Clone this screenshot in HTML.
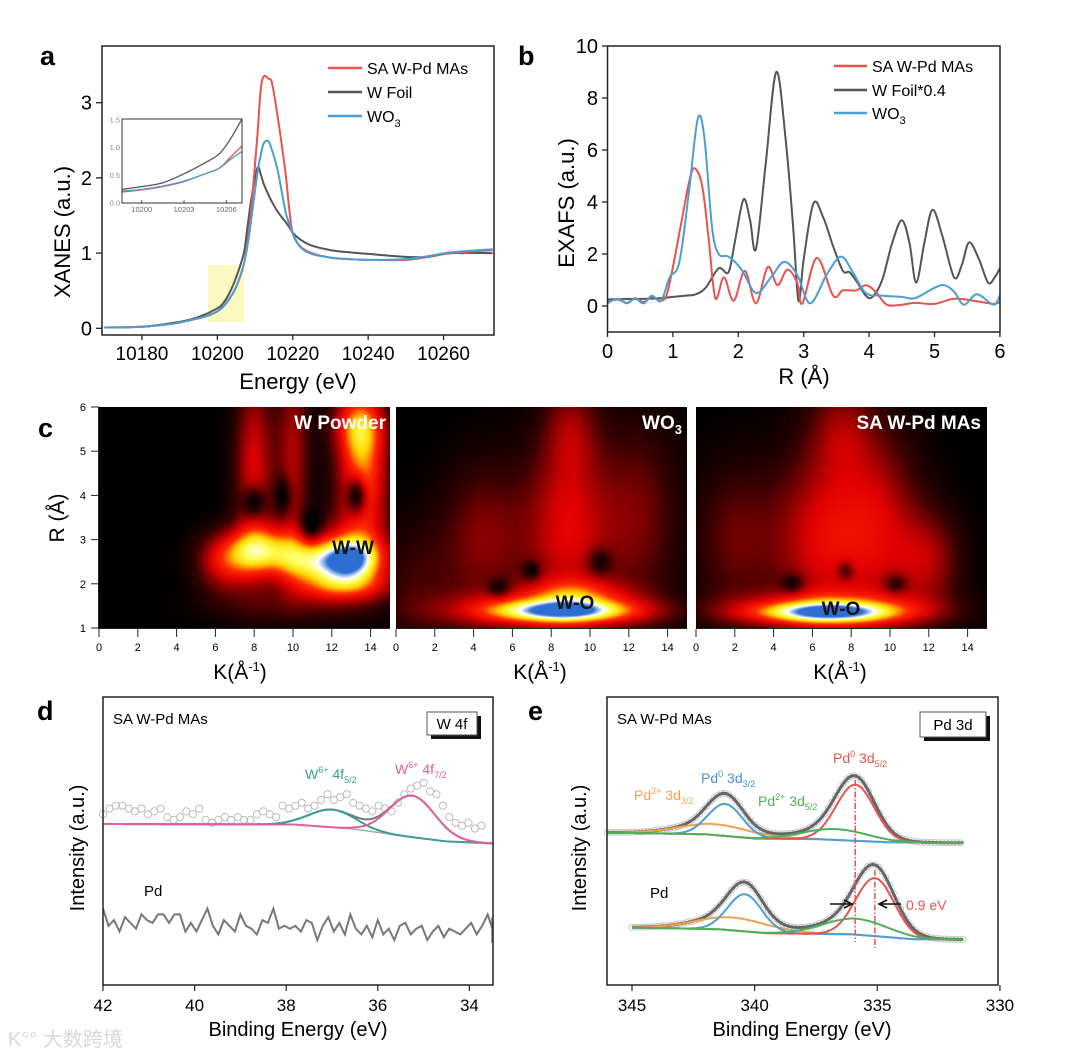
<!DOCTYPE html>
<html><head><meta charset="utf-8">
<style>
html,body{margin:0;padding:0;background:#fff;}
#wrap{position:relative;width:1080px;height:1056px;overflow:hidden;font-family:"Liberation Sans",Arial,sans-serif;}
svg{position:absolute;left:0;top:0;}
canvas{position:absolute;}
text{font-family:"Liberation Sans",Arial,sans-serif;}
</style></head>
<body>
<div id="wrap">
<canvas id="hm0" width="291" height="221" style="left:99px;top:407px;width:291px;height:221px"></canvas>
<canvas id="hm1" width="291" height="221" style="left:396px;top:407px;width:291px;height:221px"></canvas>
<canvas id="hm2" width="291" height="221" style="left:696px;top:407px;width:291px;height:221px"></canvas>
<svg id="fig" width="1080" height="1056" viewBox="0 0 1080 1056">
  <text x="40" y="65" font-size="27" font-weight="bold">a</text>
  <text x="518" y="65" font-size="27" font-weight="bold">b</text>
  <text x="38" y="437" font-size="27" font-weight="bold">c</text>
  <text x="37" y="720" font-size="27" font-weight="bold">d</text>
  <text x="528" y="720" font-size="27" font-weight="bold">e</text>

  <rect x="208" y="265" width="36" height="57" fill="#fbf8c0"/>
  <g id="pa"></g>
  <rect x="102" y="46" width="392" height="289" fill="none" stroke="#222" stroke-width="1.5"/>
  <text x="298" y="389" font-size="22" text-anchor="middle">Energy (eV)</text>
  <text transform="translate(70,232) rotate(-90)" font-size="22" text-anchor="middle">XANES (a.u.)</text>
  <g>
    <line x1="328" y1="68" x2="362" y2="68" stroke="#e8534f" stroke-width="2.5"/>
    <text x="367" y="74" font-size="16">SA W-Pd MAs</text>
    <line x1="328" y1="92" x2="362" y2="92" stroke="#555" stroke-width="2.5"/>
    <text x="367" y="98" font-size="16">W Foil</text>
    <line x1="328" y1="116" x2="362" y2="116" stroke="#4a9fd0" stroke-width="2.5"/>
    <text x="367" y="122" font-size="16">WO<tspan font-size="11" dy="5">3</tspan></text>
  </g>
  <g id="pi"></g>
  <rect x="122" y="119" width="120" height="84" fill="none" stroke="#333" stroke-width="1"/>

  <g id="pb"></g>
  <rect x="607.5" y="46" width="392.5" height="286" fill="none" stroke="#222" stroke-width="1.5"/>
  <text x="804" y="384" font-size="22" text-anchor="middle">R (Å)</text>
  <text transform="translate(574,203) rotate(-90)" font-size="22" text-anchor="middle">EXAFS (a.u.)</text>
  <g>
    <line x1="834" y1="66" x2="867" y2="66" stroke="#e8534f" stroke-width="2.5"/>
    <text x="872" y="72" font-size="16">SA W-Pd MAs</text>
    <line x1="834" y1="90" x2="867" y2="90" stroke="#555" stroke-width="2.5"/>
    <text x="872" y="96" font-size="16">W Foil*0.4</text>
    <line x1="834" y1="113" x2="867" y2="113" stroke="#4a9fd0" stroke-width="2.5"/>
    <text x="872" y="119" font-size="16">WO<tspan font-size="11" dy="5">3</tspan></text>
  </g>

  <g id="pc"></g>
  <text transform="translate(64,518) rotate(-90)" font-size="21" text-anchor="middle">R (Å)</text>
  <text x="240" y="679" font-size="21" text-anchor="middle">K(Å<tspan font-size="13" dy="-8">-1</tspan><tspan dy="8">)</tspan></text>
  <text x="540" y="679" font-size="21" text-anchor="middle">K(Å<tspan font-size="13" dy="-8">-1</tspan><tspan dy="8">)</tspan></text>
  <text x="840" y="679" font-size="21" text-anchor="middle">K(Å<tspan font-size="13" dy="-8">-1</tspan><tspan dy="8">)</tspan></text>
  <text x="386" y="429" font-size="19" font-weight="bold" fill="#fff" text-anchor="end">W Powder</text>
  <text x="353" y="554" font-size="19" font-weight="bold" fill="#111" text-anchor="middle">W-W</text>
  <text x="682" y="429" font-size="19" font-weight="bold" fill="#fff" text-anchor="end">WO<tspan font-size="13" dy="5">3</tspan></text>
  <text x="575" y="609" font-size="19" font-weight="bold" fill="#111" text-anchor="middle">W-O</text>
  <text x="981" y="429" font-size="19" font-weight="bold" fill="#fff" text-anchor="end">SA W-Pd MAs</text>
  <text x="841" y="615" font-size="19" font-weight="bold" fill="#111" text-anchor="middle">W-O</text>

  <g id="pd"></g>
  <rect x="103" y="697" width="390" height="288" fill="none" stroke="#222" stroke-width="1.5"/>
  <text x="113" y="724" font-size="15">SA W-Pd MAs</text>
  <rect x="431" y="716" width="50" height="23" fill="#111"/>
  <rect x="427" y="712" width="50" height="23" fill="#fff" stroke="#555"/>
  <text x="452" y="729" font-size="15" text-anchor="middle">W 4f</text>
  <text x="305" y="779" font-size="14" fill="#3a9e96">W<tspan font-size="9" dy="-6">6+</tspan><tspan dy="6"> 4f</tspan><tspan font-size="9" dy="4">5/2</tspan></text>
  <text x="395" y="774" font-size="14" fill="#e0609a">W<tspan font-size="9" dy="-6">6+</tspan><tspan dy="6"> 4f</tspan><tspan font-size="9" dy="4">7/2</tspan></text>
  <text x="144" y="896" font-size="15">Pd</text>
  <text transform="translate(84,848) rotate(-90)" font-size="20" text-anchor="middle">Intensity (a.u.)</text>
  <text x="298" y="1036" font-size="20" text-anchor="middle">Binding Energy (eV)</text>

  <g id="pe"></g>
  <rect x="607" y="697" width="391" height="288" fill="none" stroke="#222" stroke-width="1.5"/>
  <text x="617" y="724" font-size="15">SA W-Pd MAs</text>
  <rect x="924" y="716" width="66" height="25" fill="#111"/>
  <rect x="920" y="712" width="66" height="25" fill="#fff" stroke="#555"/>
  <text x="953" y="730" font-size="15" text-anchor="middle">Pd 3d</text>
  <text x="833" y="763" font-size="14" fill="#e8534f">Pd<tspan font-size="9" dy="-6">0</tspan><tspan dy="6"> 3d</tspan><tspan font-size="9" dy="4">5/2</tspan></text>
  <text x="701" y="783" font-size="14" fill="#4a90d0">Pd<tspan font-size="9" dy="-6">0</tspan><tspan dy="6"> 3d</tspan><tspan font-size="9" dy="4">3/2</tspan></text>
  <text x="634" y="800" font-size="14" fill="#f5a04a">Pd<tspan font-size="9" dy="-6">2+</tspan><tspan dy="6"> 3d</tspan><tspan font-size="9" dy="4">3/2</tspan></text>
  <text x="758" y="806" font-size="14" fill="#4caf5a">Pd<tspan font-size="9" dy="-6">2+</tspan><tspan dy="6"> 3d</tspan><tspan font-size="9" dy="4">5/2</tspan></text>
  <text x="650" y="898" font-size="15">Pd</text>
  <text x="906" y="910" font-size="14" fill="#e8534f">0.9 eV</text>
  <text transform="translate(586,848) rotate(-90)" font-size="20" text-anchor="middle">Intensity (a.u.)</text>
  <text x="802" y="1036" font-size="20" text-anchor="middle">Binding Energy (eV)</text>

  <text x="8" y="1046" font-size="20" fill="#d8d8d8" font-family="'Liberation Sans','Noto Sans CJK SC',sans-serif">K°° 大数跨境</text>
</svg>
</div>
<script>
// ---------- Panel a data (XANES) ----------
const xanesE   = [10170,10180,10188,10193,10197,10199,10201,10203,10205,10207,10208,10209,10210.6,10211.5,10212.3,10213.5,10214.5,10216,10218,10219,10220,10222,10225,10230,10235,10240,10250,10256,10262,10273];
const xanesFoil= [0.01,0.02,0.07,0.12,0.19,0.24,0.30,0.45,0.68,1.0,1.35,1.72,2.13,2.05,1.92,1.78,1.68,1.55,1.42,1.35,1.27,1.18,1.10,1.04,1.01,0.99,0.95,0.95,1.0,1.0];
const xanesSA  = [0.01,0.02,0.06,0.11,0.16,0.20,0.26,0.38,0.55,0.85,1.15,1.6,2.55,3.17,3.35,3.32,3.26,2.81,2.1,1.62,1.26,1.09,1.0,0.94,0.92,0.91,0.91,0.95,1.0,1.04];
const xanesWO3 = [0.01,0.02,0.06,0.11,0.16,0.20,0.26,0.38,0.55,0.85,1.1,1.45,2.06,2.3,2.46,2.49,2.37,2.1,1.57,1.4,1.26,1.08,0.99,0.94,0.92,0.91,0.92,0.96,1.01,1.05];
const xanesXTicks = [10180,10200,10220,10240,10260];
const xanesYTicks = [0,1,2,3];
const insetE    = [10198.6,10200,10201.5,10203,10204.5,10205.5,10206.3,10207.1];
const insetFoil = [0.24,0.29,0.36,0.52,0.72,0.88,1.15,1.5];
const insetSA   = [0.19,0.23,0.29,0.38,0.52,0.62,0.82,1.02];
const insetWO3  = [0.21,0.24,0.30,0.39,0.52,0.62,0.78,0.92];
const insetXTicks = [10200,10203,10206];
const insetYTicks = [0,0.5,1.0,1.5];
// ---------- Panel b data (EXAFS) ----------
const foilR = [0,0.3,0.6,0.8,1.0,1.2,1.35,1.5,1.7,1.85,1.95,2.08,2.18,2.27,2.42,2.58,2.72,2.84,2.92,3.0,3.15,3.3,3.45,3.6,3.7,3.82,3.95,4.05,4.2,4.35,4.5,4.62,4.72,4.85,4.97,5.12,5.3,5.42,5.53,5.68,5.82,5.92,6.0];
const foilV = [0.25,0.27,0.28,0.3,0.35,0.4,0.45,0.7,1.45,1.3,2.5,4.1,3.3,2.2,5.5,9.0,6.5,3.0,0.2,1.8,3.95,3.4,2.3,1.35,1.3,0.9,0.4,0.35,1.0,2.4,3.3,2.4,0.9,2.5,3.7,2.7,1.1,1.6,2.45,1.8,0.9,1.1,1.45];
const saR = [0,0.15,0.3,0.42,0.55,0.68,0.8,0.9,1.0,1.15,1.25,1.33,1.45,1.55,1.65,1.78,1.93,2.1,2.27,2.45,2.6,2.75,2.9,2.98,3.2,3.45,3.6,3.8,3.95,4.1,4.27,4.5,4.7,5.0,5.3,5.6,5.9,6.0];
const saV = [0.15,0.25,0.12,0.3,0.15,0.35,0.2,0.4,1.5,3.5,4.8,5.3,4.6,2.5,0.3,1.1,0.2,1.35,0.1,1.5,0.8,1.4,0.9,0.1,1.85,0.4,0.6,0.6,0.8,0.55,0.05,0.05,0.12,0.08,0.28,0.2,0.08,0.15];
const wo3R = [0,0.15,0.3,0.42,0.55,0.68,0.82,0.95,1.1,1.25,1.38,1.48,1.6,1.7,1.85,2.05,2.27,2.5,2.7,2.9,3.1,3.35,3.57,3.75,3.95,4.2,4.5,4.7,5.0,5.15,5.3,5.45,5.65,5.9,6.0];
const wo3V = [0.1,0.28,0.1,0.3,0.1,0.4,0.2,1.1,1.7,4.5,7.2,6.5,3.0,2.0,1.9,1.4,0.5,1.1,1.7,1.2,0.1,1.2,1.9,1.3,0.5,0.4,0.35,0.3,0.7,0.8,0.55,0.05,0.45,0.05,0.4];
const exafsXTicks = [0,1,2,3,4,5,6];
const exafsYTicks = [0,2,4,6,8,10];
// ---------- Panel c data (wavelet blobs: k, R, amplitude, width-k, width-R) ----------
const blobsWPowder = [[12.9,2.55,0.62,1.1,0.32],[12.6,2.6,0.38,1.8,0.55],[8.4,2.75,0.6,1.5,0.38],[10.8,2.45,0.3,1.2,0.3],[13.6,4.4,0.55,0.9,1.1],[13.4,5.6,0.42,0.9,0.5],[8.0,4.6,0.35,0.7,1.5],[10.0,4.8,0.28,0.6,1.6],[6.5,2.4,0.3,1.0,0.45],[12.5,1.95,0.35,1.8,0.25],[10,1.5,0.12,3,0.3],[13.3,4.0,-0.45,0.35,0.3],[8.0,3.85,-0.3,0.4,0.25],[10.9,3.3,-0.25,0.4,0.25],[9.5,4,-0.2,0.3,0.3]];
const blobsWO3 = [[8.6,1.38,0.55,2.4,0.16],[8.0,1.4,0.45,3.6,0.3],[9.2,1.8,0.25,1.8,0.25],[8.8,3.2,0.35,1.6,1.4],[4.5,3.0,0.22,1.5,1.2],[12.5,3.5,0.2,1.5,1.5],[9,5.5,0.2,1,0.8],[1,2,0.12,1.5,1],[5.3,1.9,-0.2,0.4,0.15],[7,2.3,-0.2,0.3,0.15],[10.5,2.5,-0.2,0.4,0.2]];
const blobsSA = [[6.8,1.35,0.55,2.4,0.15],[6.8,1.4,0.45,3.6,0.28],[6.5,3.0,0.35,1.8,1.4],[9.5,3.3,0.28,1.5,1.5],[12,2.5,0.25,1.2,0.8],[2,3,0.18,1.5,1.2],[7.5,5.5,0.2,1.2,0.8],[5,2.0,-0.2,0.4,0.15],[7.7,2.3,-0.2,0.3,0.15],[10.3,2.0,-0.2,0.4,0.15]];
const wtKTicks = [0,2,4,6,8,10,12,14];
const wtRTicks = [1,2,3,4,5,6];
// ---------- Panel d data (W 4f XPS) ----------
const w4fScatterBE0 = 42.0;
const w4fScatterStep = 0.14;
const w4fScatter = [59,61,62,62,61,60,61,59,60,61,58,57,58,60,59,61,57,56,57,58,57,58,57,57,59,60,59,58,62,61,62,63,61,62,64,66,64,65,66,63,62,61,60,62,61,60,63,66,68,69,70,67,66,62,58,56,55,56,54,55];
const w4fBgBE = [42,37.8,36.5,35.5,34.5,33.5];
const w4fBgV  = [55.6,55.4,53.8,51.5,49.5,48.8];
const w4fPeakBE = [37.0,35.25];
const w4fPeakH  = [6.2,14.5];
const w4fPeakW  = [0.5,0.5];
const pdNoiseBE0 = 42.0;
const pdNoiseStep = 0.12;
const pdNoise = [26,20,22,18,23,21,19,24,22,21,24,24,21,24,24,18,21,18,22,26,20,17,22,20,18,24,20,19,17,22,21,26,19,20,19,20,18,22,21,15,20,23,18,21,17,24,19,17,20,16,22,17,19,15,20,21,17,19,20,15,18,20,16,19,18,17,19,21,17,20,24,19,14,23,21];
const w4fXTicks = [42,40,38,36,34];
// ---------- Panel e data (Pd 3d XPS) ----------
const pdUpBgBE = [346,342,340,337.5,334.5,331.5];
const pdUpBgV  = [52.6,52,50.5,50.3,49.2,49];
const pdLoBgBE = [345,341.5,339.5,336,333.5,331.5];
const pdLoBgV  = [19.4,18.8,17.4,17,15.3,15.2];
const pdUpCenters = [341.6,341.2,336.7,335.9];
const pdUpHeights = [3.8,11.2,3.8,19.6];
const pdLoCenters = [340.9,340.4,335.9,335.1];
const pdLoHeights = [4.5,13.0,5.6,20.3];
const pdWidths    = [1.5,0.7,1.3,0.78];
const pdXTicks = [345,340,335,330];

const NS='http://www.w3.org/2000/svg';
function mk(tag, attrs, name, parent){
  const el=document.createElementNS(NS,tag);
  for(const k in attrs) el.setAttribute(k,attrs[k]);
  
  
  parent.appendChild(el);
  return el;
}
function smooth(pts){
  let d='M'+pts[0][0].toFixed(1)+','+pts[0][1].toFixed(1);
  for(let i=0;i<pts.length-1;i++){
    const p0=pts[i-1]||pts[i],p1=pts[i],p2=pts[i+1],p3=pts[i+2]||p2;
    const c1x=p1[0]+(p2[0]-p0[0])/6,c1y=p1[1]+(p2[1]-p0[1])/6;
    const c2x=p2[0]-(p3[0]-p1[0])/6,c2y=p2[1]-(p3[1]-p1[1])/6;
    d+=' C'+c1x.toFixed(1)+','+c1y.toFixed(1)+' '+c2x.toFixed(1)+','+c2y.toFixed(1)+' '+p2[0].toFixed(1)+','+p2[1].toFixed(1);
  }
  return d;
}
function poly(pts){return 'M'+pts.map(p=>p[0].toFixed(1)+','+p[1].toFixed(1)).join(' L');}
function interp(xs,ys,x){
  const asc=xs[0]<xs[xs.length-1];
  for(let i=0;i<xs.length-1;i++){
    const a=xs[i],b=xs[i+1];
    if(asc?(x>=a&&x<=b):(x<=a&&x>=b)){return ys[i]+(ys[i+1]-ys[i])*(x-a)/(b-a);}
  }
  return (asc?x<xs[0]:x>xs[0])?ys[0]:ys[ys.length-1];
}
function gauss(x,c,h,w){return h*Math.exp(-0.5*((x-c)/w)*((x-c)/w));}

// ---------- Panel a ----------
const pa=document.getElementById('pa');
const xA=e=>102+(e-10169.4)*3.77, yA=v=>328.3-v*75.2;
mk('path',{d:smooth(xanesE.map((e,i)=>[xA(e),yA(xanesFoil[i])])),fill:'none',stroke:'#555','stroke-width':2},'xanes-wfoil-line',pa);
mk('path',{d:smooth(xanesE.map((e,i)=>[xA(e),yA(xanesSA[i])])),fill:'none',stroke:'#e8534f','stroke-width':2},'xanes-sa-line',pa);
mk('path',{d:smooth(xanesE.map((e,i)=>[xA(e),yA(xanesWO3[i])])),fill:'none',stroke:'#4a9fd0','stroke-width':2},'xanes-wo3-line',pa);
xanesXTicks.forEach(t=>{
  mk('line',{x1:xA(t),x2:xA(t),y1:335,y2:340,stroke:'#222','stroke-width':1.3},'x-tick-a',pa);
  const tx=mk('text',{x:xA(t),y:360,'font-size':19,'text-anchor':'middle'},'x-tick-label-a',pa); tx.textContent=t;
});
xanesYTicks.forEach(t=>{
  mk('line',{x1:96,x2:102,y1:yA(t),y2:yA(t),stroke:'#222','stroke-width':1.3},'y-tick-a',pa);
  const tx=mk('text',{x:92,y:yA(t)+7,'font-size':20,'text-anchor':'end'},'y-tick-label-a',pa); tx.textContent=t;
});
const pi=document.getElementById('pi');
mk('rect',{x:122,y:119,width:120,height:84,fill:'#fff'},'inset-bg',pi);
const xI=e=>122+(e-10198.6)*14.1, yI=v=>202.7-v*55.6;
mk('path',{d:smooth(insetE.map((e,i)=>[xI(e),yI(insetFoil[i])])),fill:'none',stroke:'#555','stroke-width':1.3},'inset-wfoil-line',pi);
mk('path',{d:smooth(insetE.map((e,i)=>[xI(e),yI(insetSA[i])])),fill:'none',stroke:'#e8534f','stroke-width':1.3},'inset-sa-line',pi);
mk('path',{d:smooth(insetE.map((e,i)=>[xI(e),yI(insetWO3[i])])),fill:'none',stroke:'#4a9fd0','stroke-width':1.3},'inset-wo3-line',pi);
insetXTicks.forEach(t=>{
  mk('line',{x1:xI(t),x2:xI(t),y1:203,y2:200,stroke:'#555'},'inset-x-tick',pi);
  const tx=mk('text',{x:xI(t),y:212,'font-size':7.5,fill:'#666','text-anchor':'middle'},'inset-x-tick-label',pi); tx.textContent=t;
});
insetYTicks.forEach(t=>{
  const tx=mk('text',{x:120,y:yI(t)+3,'font-size':7.5,fill:'#888','text-anchor':'end'},'inset-y-tick-label',pi); tx.textContent=t.toFixed(1);
});

// ---------- Panel b ----------
const pb=document.getElementById('pb');
const xB=r=>607.5+r*65.4, yB=v=>306-v*26;
mk('path',{d:smooth(foilR.map((r,i)=>[xB(r),yB(foilV[i])])),fill:'none',stroke:'#555','stroke-width':2},'exafs-wfoil-line',pb);
mk('path',{d:smooth(saR.map((r,i)=>[xB(r),yB(saV[i])])),fill:'none',stroke:'#e8534f','stroke-width':2},'exafs-sa-line',pb);
mk('path',{d:smooth(wo3R.map((r,i)=>[xB(r),yB(wo3V[i])])),fill:'none',stroke:'#4a9fd0','stroke-width':2},'exafs-wo3-line',pb);
exafsXTicks.forEach(t=>{
  mk('line',{x1:xB(t),x2:xB(t),y1:332,y2:337,stroke:'#222','stroke-width':1.3},'x-tick-b',pb);
  const tx=mk('text',{x:xB(t),y:358,'font-size':20,'text-anchor':'middle'},'x-tick-label-b',pb); tx.textContent=t;
});
exafsYTicks.forEach(t=>{
  mk('line',{x1:602,x2:607.5,y1:yB(t),y2:yB(t),stroke:'#222','stroke-width':1.3},'y-tick-b',pb);
  const tx=mk('text',{x:598,y:yB(t)+7,'font-size':20,'text-anchor':'end'},'y-tick-label-b',pb); tx.textContent=t;
});

// ---------- Panel c ----------
const stops=[[0,0,0,0],[0.12,55,0,0],[0.35,225,0,0],[0.5,255,40,0],[0.66,255,215,0],[0.78,255,255,90],[0.88,255,255,255],[0.95,130,175,235],[1,45,110,210]];
function cmap(v){
  v=Math.max(0,Math.min(1,v));
  for(let i=0;i<stops.length-1;i++){const a=stops[i],b=stops[i+1];
    if(v<=b[0]){const t=(v-a[0])/(b[0]-a[0]);return [a[1]+(b[1]-a[1])*t,a[2]+(b[2]-a[2])*t,a[3]+(b[3]-a[3])*t];}}
  return [45,110,210];
}
function drawMap(id,blobs){
  const cv=document.getElementById(id),ctx=cv.getContext('2d');
  const W=cv.width,H=cv.height,img=ctx.createImageData(W,H);
  for(let py=0;py<H;py++){const R=6-(py+0.5)/H*5;
    for(let px=0;px<W;px++){const k=(px+0.5)/W*15;let s=0;
      for(const b of blobs){const dk=(k-b[0])/b[3],dr=(R-b[1])/b[4];s+=b[2]*Math.exp(-0.5*(dk*dk+dr*dr));}
      const c=cmap(s),o=(py*W+px)*4;img.data[o]=c[0];img.data[o+1]=c[1];img.data[o+2]=c[2];img.data[o+3]=255;}}
  ctx.putImageData(img,0,0);
}
drawMap('hm0',blobsWPowder);drawMap('hm1',blobsWO3);drawMap('hm2',blobsSA);
const pc=document.getElementById('pc');
const mapX0=[99,396,696];
mk('line',{x1:98.5,x2:98.5,y1:407,y2:629,stroke:'#222','stroke-width':1},'y-axis-c',pc);
wtRTicks.forEach(t=>{
  const y=628-(t-1)/5*221;
  mk('line',{x1:91,x2:99,y1:y,y2:y,stroke:'#222'},'y-tick-c',pc);
  const tx=mk('text',{x:86,y:y+4,'font-size':11,'text-anchor':'end'},'y-tick-label-c',pc); tx.textContent=t;
});
mapX0.forEach(x0=>{
  mk('line',{x1:x0,x2:x0+291,y1:628.5,y2:628.5,stroke:'#222'},'x-axis-c',pc);
  wtKTicks.forEach(t=>{
    const x=x0+t/15*291;
    mk('line',{x1:x,x2:x,y1:629,y2:637,stroke:'#222'},'x-tick-c',pc);
    const tx=mk('text',{x:x,y:651,'font-size':11,'text-anchor':'middle'},'x-tick-label-c',pc); tx.textContent=t;
  });
});

// ---------- Panel d ----------
const pd=document.getElementById('pd');
const xD=be=>103+(42-be)*45.8, yV=v=>983-v*2.86;
w4fScatter.forEach((v,i)=>{
  const be=w4fScatterBE0-i*w4fScatterStep;
  mk('circle',{cx:xD(be),cy:yV(v),r:3.6,fill:'none',stroke:'#bbb','stroke-width':1},'w4f-data-point',pd);
});
const beD=[];for(let b=42;b>=33.5;b-=0.05)beD.push(b);
const bgD=b=>interp(w4fBgBE,w4fBgV,b);
mk('path',{d:poly(beD.map(b=>[xD(b),yV(bgD(b))])),fill:'none',stroke:'#aaa','stroke-width':1.5},'w4f-background',pd);
mk('path',{d:poly(beD.map(b=>[xD(b),yV(bgD(b)+gauss(b,w4fPeakBE[0],w4fPeakH[0],w4fPeakW[0])+gauss(b,w4fPeakBE[1],w4fPeakH[1],w4fPeakW[1]))])),fill:'none',stroke:'#777','stroke-width':2},'w4f-envelope',pd);
mk('path',{d:poly(beD.map(b=>[xD(b),yV(bgD(b)+gauss(b,w4fPeakBE[0],w4fPeakH[0],w4fPeakW[0]))])),fill:'none',stroke:'#3a9e96','stroke-width':2},'w4f-52-peak',pd);
mk('path',{d:poly(beD.map(b=>[xD(b),yV(bgD(b)+gauss(b,w4fPeakBE[1],w4fPeakH[1],w4fPeakW[1]))])),fill:'none',stroke:'#e0609a','stroke-width':2},'w4f-72-peak',pd);
mk('path',{d:poly(pdNoise.map((v,i)=>[xD(Math.max(33.5,pdNoiseBE0-i*pdNoiseStep)),yV(v)])),fill:'none',stroke:'#777','stroke-width':2},'pd-reference-trace',pd);
w4fXTicks.forEach(t=>{
  mk('line',{x1:xD(t),x2:xD(t),y1:985,y2:991,stroke:'#222','stroke-width':1.2},'x-tick-d',pd);
  const tx=mk('text',{x:xD(t),y:1011,'font-size':17,'text-anchor':'middle'},'x-tick-label-d',pd); tx.textContent=t;
});

// ---------- Panel e ----------
const pe=document.getElementById('pe');
const xE=be=>632+(345-be)*24.53;
const compColors=['#f5a04a','#4a9fd6','#4caf5a','#e8534f'];
const compNames=['pd2-3d32','pd0-3d32','pd2-3d52','pd0-3d52'];
function drawXPS(bgBE,bgV,centers,heights,tag){
  const bs=[];for(let b=bgBE[0];b>=bgBE[bgBE.length-1]-0.001;b-=0.05)bs.push(b);
  const bg=b=>interp(bgBE,bgV,b);
  const env=b=>bg(b)+centers.reduce((s,c,i)=>s+gauss(b,c,heights[i],pdWidths[i]),0);
  for(let b=bgBE[0];b>=bgBE[bgBE.length-1];b-=0.15){
    mk('circle',{cx:xE(b),cy:yV(env(b)),r:3,fill:'none',stroke:'#c8c8c8','stroke-width':1},'pd3d-data-point-'+tag,pe);
  }
  mk('path',{d:poly(bs.map(b=>[xE(b),yV(env(b))])),fill:'none',stroke:'#666','stroke-width':3},'pd3d-envelope-'+tag,pe);
  [0,1,3,2].forEach(i=>{
    mk('path',{d:poly(bs.map(b=>[xE(b),yV(bg(b)+gauss(b,centers[i],heights[i],pdWidths[i]))])),fill:'none',stroke:compColors[i],'stroke-width':2},'pd3d-'+compNames[i]+'-'+tag,pe);
  });
}
drawXPS(pdUpBgBE,pdUpBgV,pdUpCenters,pdUpHeights,'sa');
drawXPS(pdLoBgBE,pdLoBgV,pdLoCenters,pdLoHeights,'pd');
mk('line',{x1:xE(pdUpCenters[3]),x2:xE(pdUpCenters[3]),y1:780,y2:942,stroke:'#e8534f','stroke-width':1.5,'stroke-dasharray':'6,2,1.5,2'},'shift-guide-sa',pe);
mk('line',{x1:xE(pdLoCenters[3]),x2:xE(pdLoCenters[3]),y1:870,y2:948,stroke:'#e8534f','stroke-width':1.5,'stroke-dasharray':'6,2,1.5,2'},'shift-guide-pd',pe);
mk('path',{d:'M830,904 L850,904 M844,900 L852,904 L844,908',fill:'none',stroke:'#111','stroke-width':1.6},'shift-arrow-left',pe);
mk('path',{d:'M901,904 L880,904 M887,900 L879,904 L887,908',fill:'none',stroke:'#111','stroke-width':1.6},'shift-arrow-right',pe);
pdXTicks.forEach(t=>{
  mk('line',{x1:xE(t),x2:xE(t),y1:985,y2:991,stroke:'#222','stroke-width':1.2},'x-tick-e',pe);
  const tx=mk('text',{x:xE(t),y:1011,'font-size':17,'text-anchor':'middle'},'x-tick-label-e',pe); tx.textContent=t;
});
</script>
</body></html>
